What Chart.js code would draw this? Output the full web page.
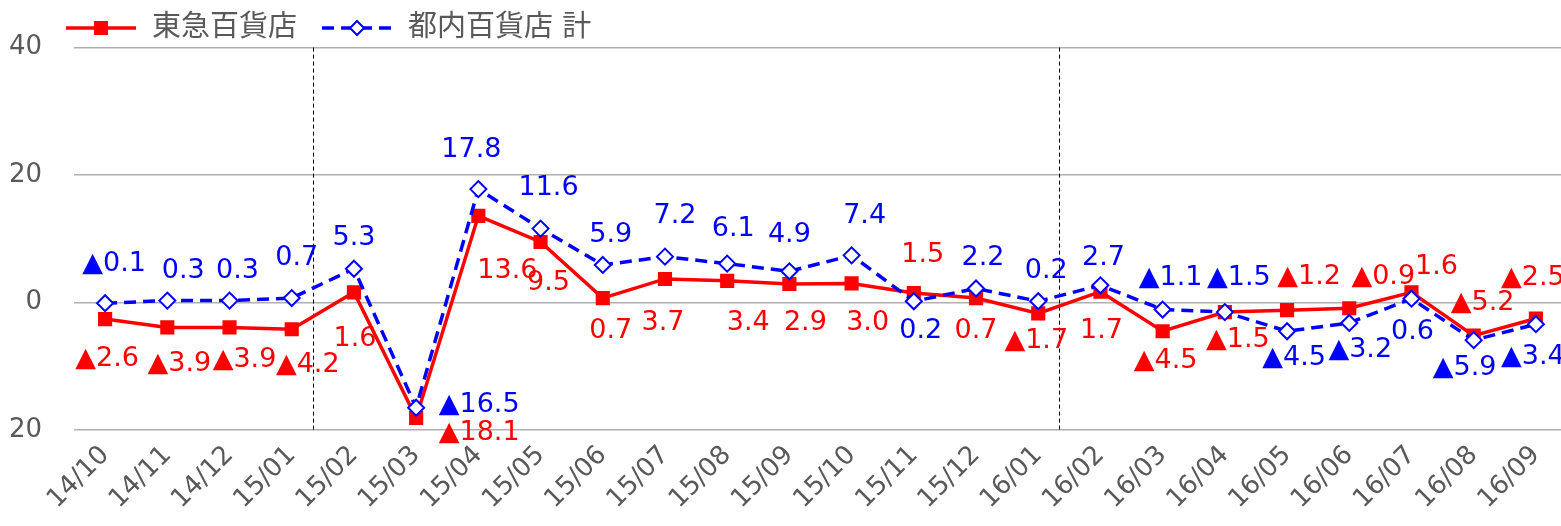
<!DOCTYPE html>
<html>
<head>
<meta charset="utf-8">
<script src="https://cdn.jsdelivr.net/npm/chart.js@4"></script>
<style>
  html, body { margin: 0; padding: 0; background: #fff; overflow: hidden; }
  #wrap { width: 1561px; height: 526px; overflow: hidden; }
</style>
</head>
<body>
<div id="wrap"><canvas id="chart" width="1580" height="526"></canvas></div>
<script>
// data
const categories = ['14/10','14/11','14/12','15/01','15/02','15/03','15/04','15/05','15/06','15/07','15/08','15/09',
                    '15/10','15/11','15/12','16/01','16/02','16/03','16/04','16/05','16/06','16/07','16/08','16/09'];
const tokyuValues = [-2.6,-3.9,-3.9,-4.2,1.6,-18.1,13.6,9.5,0.7,3.7,3.4,2.9,3.0,1.5,0.7,-1.7,1.7,-4.5,-1.5,-1.2,-0.9,1.6,-5.2,-2.5];
const tokyoValues = [-0.1,0.3,0.3,0.7,5.3,-16.5,17.8,11.6,5.9,7.2,6.1,4.9,7.4,0.2,2.2,0.2,2.7,-1.1,-1.5,-4.5,-3.2,0.6,-5.9,-3.4];
const yTickValues = [-20, 0, 20, 40];
const yTickLabels = ['20', '0', '20', '40'];
const seriesNames = ['東急百貨店', '都内百貨店 計'];

// label placement (pixel offsets from each point)
const tokyuLabelDx = [2,12,15,16,1,63,29,8,8,-2,21,16,16,9,0,-2,1,3,13,22,34,25,9,-3];
const tokyuLabelDy = [40,37,33,36,47,15,55,41,33,44,42,39,40,-38,33,28,39,30,28,-33,-31,-25,-33,-40];
const tokyoLabelDx = [9,16,8,5,0,63,-7,8,8,10,6,0,13,7,7,8,3,8,14,7,11,1,-9,-3];
const tokyoLabelDy = [-39,-30,-30,-40,-31,-3,-39,-41,-30,-41,-35,-36,-39,30,-31,-30,-27,-32,-34,27,27,33,28,33];
const dividerAfter = ['15/01', '16/01'];

const FONT = '"DejaVu Sans", "Noto Sans CJK JP", sans-serif';
const GRAY = '#595959';

function fmt(v) {
  return (v < 0 ? '▲' : '') + Math.abs(v).toFixed(1);
}

const labelPlugin = {
  id: 'labels',
  afterDatasetsDraw(chart) {
    const ctx = chart.ctx;
    const offsets = [[tokyuLabelDx, tokyuLabelDy], [tokyoLabelDx, tokyoLabelDy]];
    ctx.save();
    ctx.font = '27px ' + FONT;
    ctx.textAlign = 'center';
    ctx.textBaseline = 'middle';
    chart.data.datasets.forEach((ds, di) => {
      const meta = chart.getDatasetMeta(di);
      ctx.fillStyle = ds.borderColor;
      meta.data.forEach((pt, i) => {
        ctx.fillText(fmt(ds.data[i]), pt.x + offsets[di][0][i], pt.y + offsets[di][1][i]);
      });
    });
    ctx.restore();
  }
};

const dividerPlugin = {
  id: 'dividers',
  beforeDatasetsDraw(chart) {
    const ctx = chart.ctx;
    const x = chart.scales.x;
    const area = chart.chartArea;
    ctx.save();
    ctx.strokeStyle = '#000';
    ctx.lineWidth = 1;
    ctx.setLineDash([4, 3]);
    dividerAfter.forEach(c => {
      const i = categories.indexOf(c);
      const px = Math.round(x.getPixelForValue(i) + 0.34 * (x.getPixelForValue(i + 1) - x.getPixelForValue(i))) + 0.5;
      ctx.beginPath();
      ctx.moveTo(px, area.top);
      ctx.lineTo(px, area.bottom);
      ctx.stroke();
    });
    ctx.restore();
  }
};

const legendPlugin = {
  id: 'customLegend',
  afterDraw(chart) {
    const ctx = chart.ctx;
    const items = [{ x: 66 }, { x: 322 }];
    ctx.save();
    chart.data.datasets.forEach((ds, di) => {
      const x0 = items[di].x, y = 28;
      ctx.strokeStyle = ds.borderColor;
      ctx.lineWidth = 3.5;
      ctx.setLineDash(ds.borderDash || []);
      ctx.beginPath();
      ctx.moveTo(x0, y);
      ctx.lineTo(x0 + 70, y);
      ctx.stroke();
      ctx.setLineDash([]);
      const cx = x0 + 35;
      if (di === 0) {
        ctx.fillStyle = ds.borderColor;
        ctx.fillRect(cx - 7, y - 7, 14, 14);
      } else {
        ctx.fillStyle = '#fff';
        ctx.lineWidth = 2;
        ctx.beginPath();
        ctx.moveTo(cx, y - 7);
        ctx.lineTo(cx + 7, y);
        ctx.lineTo(cx, y + 7);
        ctx.lineTo(cx - 7, y);
        ctx.closePath();
        ctx.fill();
        ctx.stroke();
      }
      ctx.fillStyle = GRAY;
      ctx.font = '29px ' + FONT;
      ctx.textAlign = 'left';
      ctx.textBaseline = 'middle';
      ctx.fillText(ds.label, x0 + 86, y);
    });
    ctx.restore();
  }
};

const ctx = document.getElementById('chart').getContext('2d');
new Chart(ctx, {
  type: 'line',
  data: {
    labels: categories,
    datasets: [
      {
        label: seriesNames[0],
        data: tokyuValues,
        borderColor: '#FF0000',
        backgroundColor: '#FF0000',
        borderWidth: 3.5,
        pointStyle: 'rect',
        pointRadius: 10,
        pointBorderWidth: 0,
        tension: 0,
        order: 2
      },
      {
        label: seriesNames[1],
        data: tokyoValues,
        borderColor: '#0000FF',
        backgroundColor: '#FFFFFF',
        borderWidth: 3.5,
        borderDash: [12, 7],
        pointStyle: 'rectRot',
        pointRadius: 8,
        pointBorderWidth: 2,
        pointBackgroundColor: '#FFFFFF',
        tension: 0,
        order: 1
      }
    ]
  },
  options: {
    responsive: false,
    animation: false,
    layout: { padding: { top: 47, right: 13, left: 0, bottom: 0 } },
    plugins: {
      legend: { display: false },
      tooltip: { enabled: false }
    },
    scales: {
      x: {
        type: 'category',
        offset: true,
        grid: { display: false, drawTicks: false },
        border: { display: false },
        ticks: {
          color: GRAY,
          font: { family: FONT, size: 26 },
          minRotation: 45,
          maxRotation: 45,
          autoSkip: false,
          padding: 10
        },
        afterFit(scale) { scale.height = 96; }
      },
      y: {
        min: -20,
        max: 40,
        afterBuildTicks(scale) {
          scale.ticks = yTickValues.map(v => ({ value: v }));
        },
        grid: { color: '#B0B0B0', lineWidth: 1.5, drawTicks: false },
        border: { display: false },
        ticks: {
          color: GRAY,
          font: { family: FONT, size: 26 },
          padding: 32,
          callback: (v) => yTickLabels[yTickValues.indexOf(v)]
        },
        afterFit(scale) { scale.width = 74; }
      }
    }
  },
  plugins: [dividerPlugin, labelPlugin, legendPlugin]
});
</script>
</body>
</html>
